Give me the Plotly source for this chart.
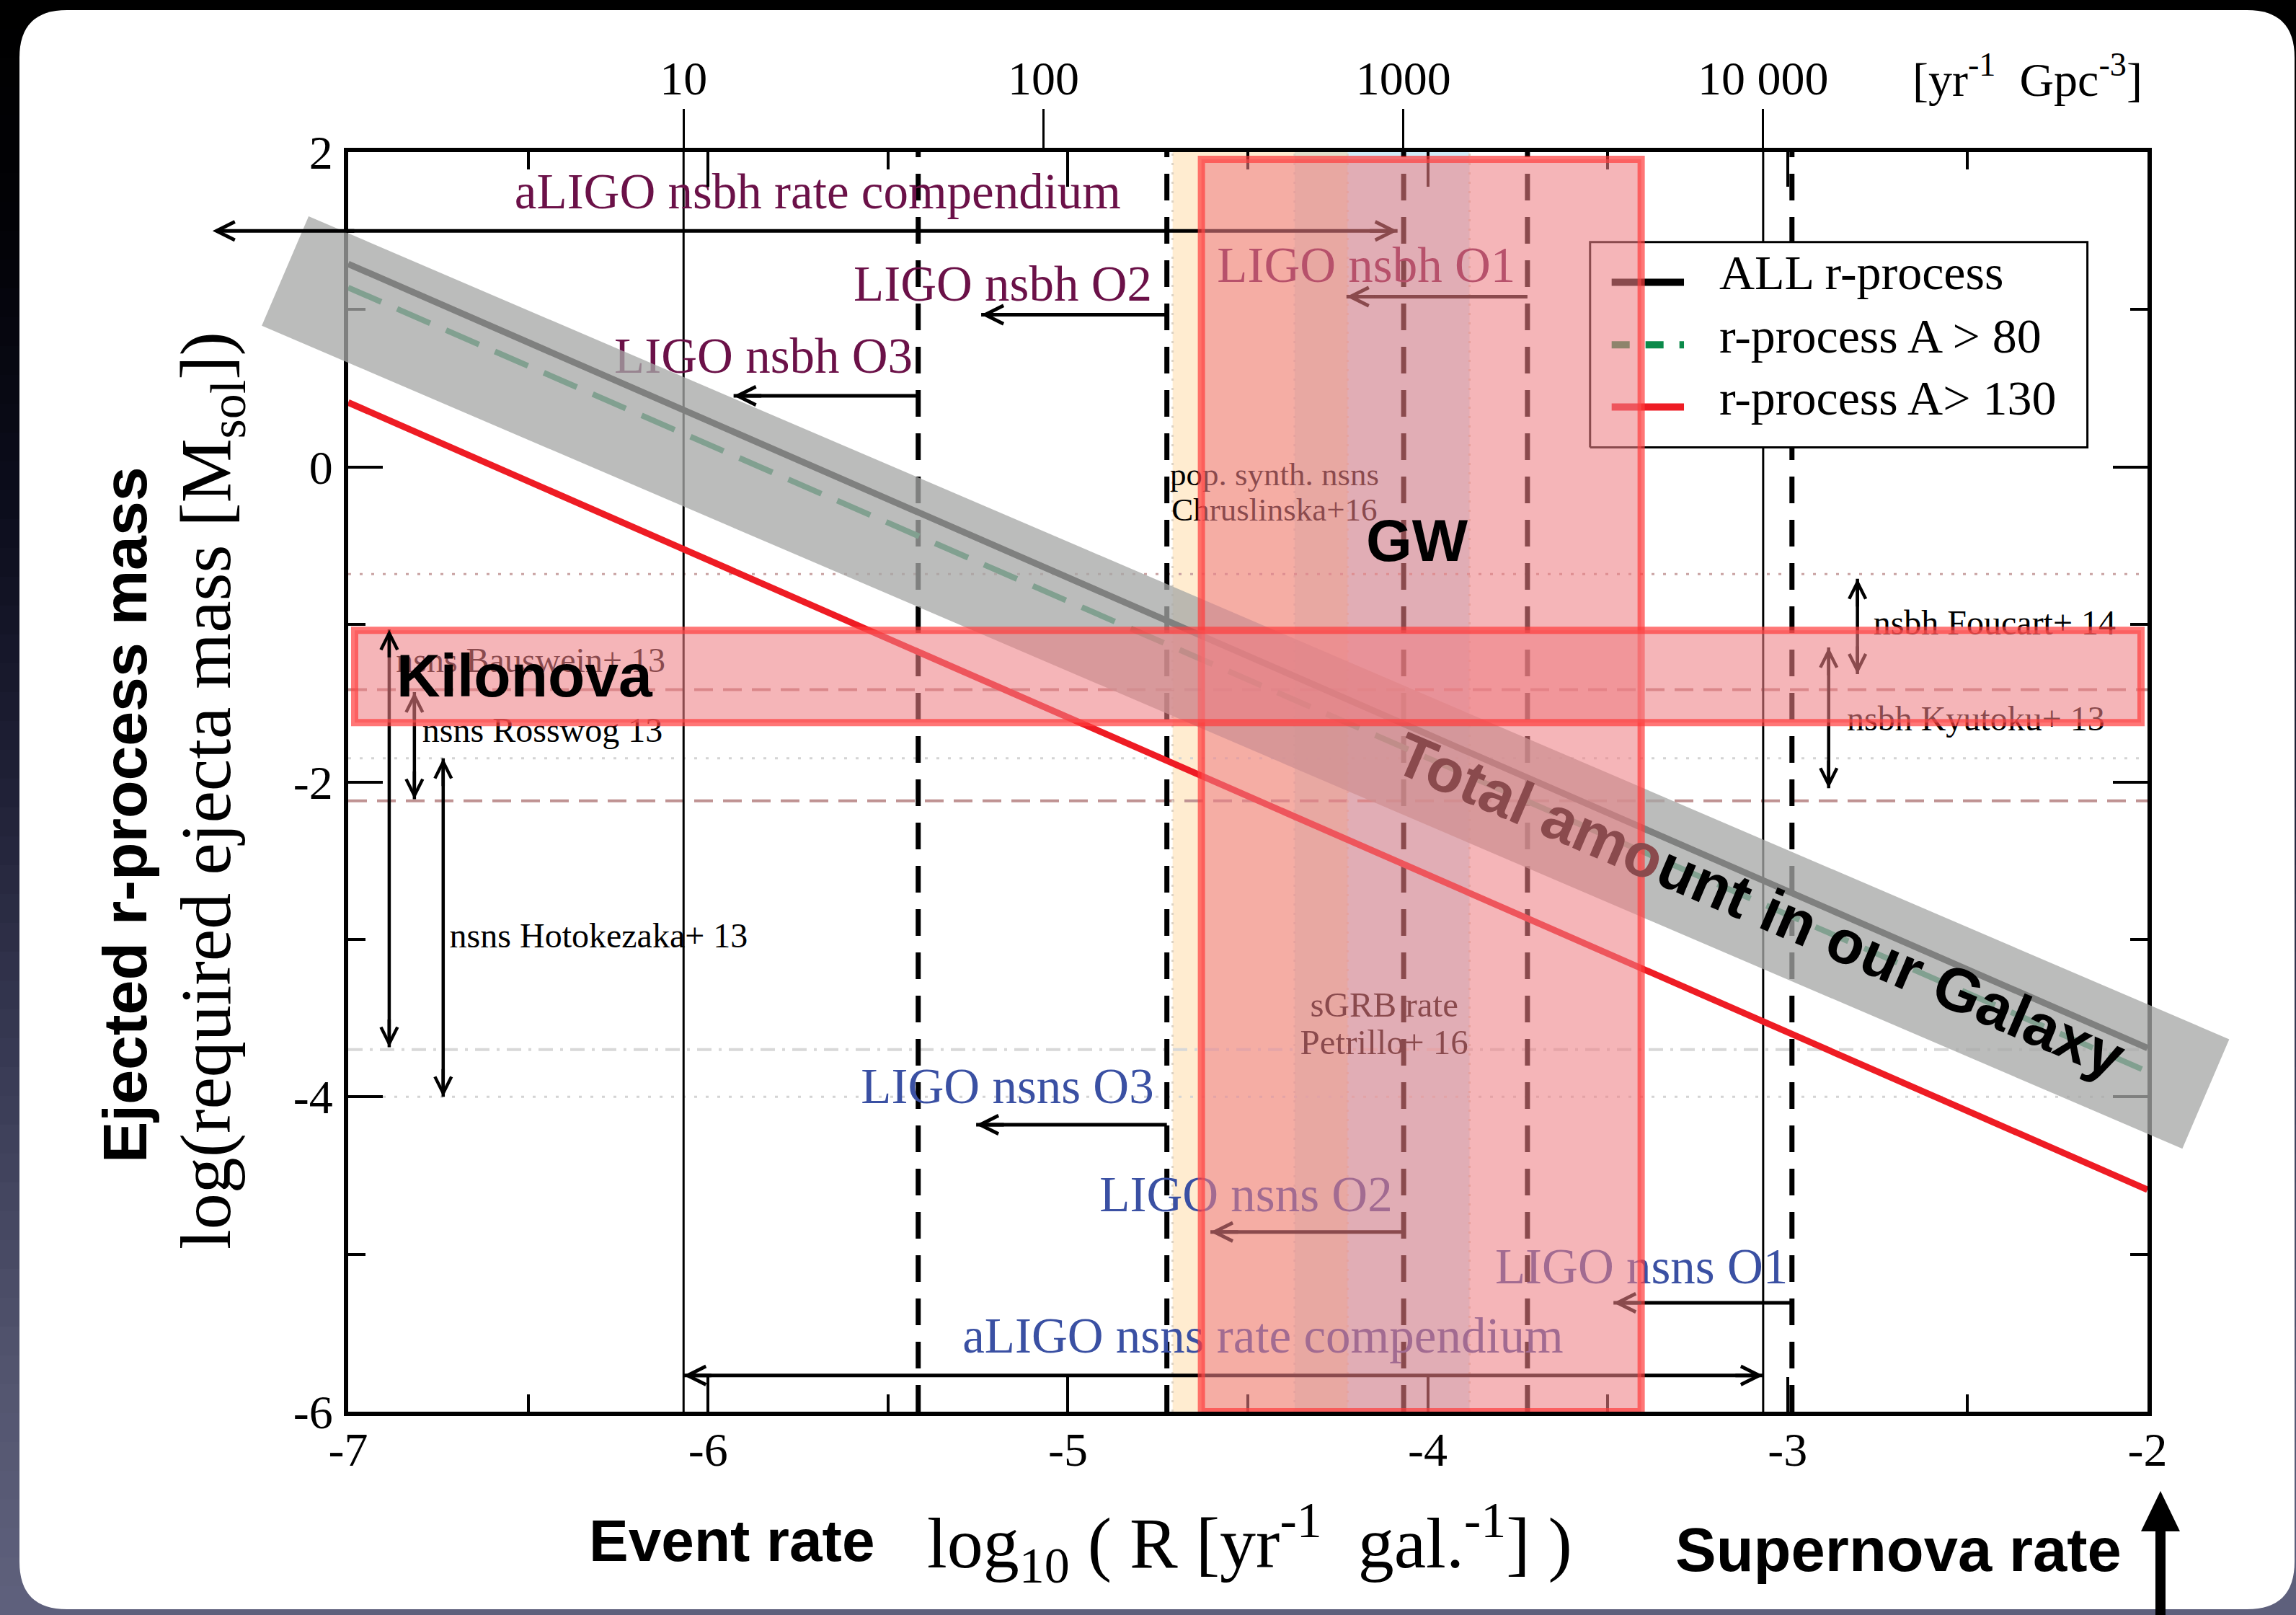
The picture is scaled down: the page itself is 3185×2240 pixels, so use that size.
import math
import plotly.graph_objects as go

# ---------------- canvas / plot-area geometry (pixels) ----------------
W, H = 3185, 2240
ML, MR, MT, MB = 483, 206, 211, 282
PW, PH = W - ML - MR, H - MT - MB
X0, X1 = -7.0, -2.0
Y0, Y1 = -6.0, 2.0
SERIF = "Liberation Serif, Times New Roman, serif"
SANS = "Liberation Sans, Arial, sans-serif"

# ---------------- data ----------------
# required ejecta mass (log Msun) versus event rate (log per yr per galaxy)
rate_grid = [-7.0, -2.0]
mass_all = [1.29, -3.69]
mass_a80 = [1.14, -3.84]
mass_a130 = [0.41, -4.59]

# top axis: volumetric rate in yr^-1 Gpc^-3
gpc_offset = -7.068
gpc_ticks = [10, 100, 1000, 10000]
gpc_tick_labels = ["10", "100", "1000", "10 000"]

x_tick_vals = [-7, -6, -5, -4, -3, -2]
x_minor_vals = [-6.5, -5.5, -4.5, -3.5, -2.5]
y_tick_vals = [-6, -4, -2, 0, 2]
y_minor_vals = [-5, -3, -1, 1]

# LIGO upper limits (log R at the limit, arrow end, arrow height, label centre)
limit_names = ["LIGO nsbh O1", "LIGO nsbh O2", "LIGO nsbh O3",
               "LIGO nsns O1", "LIGO nsns O2", "LIGO nsns O3"]
limit_x = [-3.723, -4.725, -5.416, -2.988, -4.067, -4.725]
limit_arrow_end = [-4.226, -5.241, -5.929, -3.484, -4.604, -5.255]
limit_arrow_y = [1.082, 0.967, 0.452, -5.308, -4.859, -4.177]
limit_label_x = [-4.171, -5.181, -5.846, -3.406, -4.505, -5.168]
limit_label_y = [1.254, 1.135, 0.677, -5.107, -4.646, -3.962]

# rate compendia
compendium_names = ["aLIGO nsbh rate compendium", "aLIGO nsns rate compendium"]
compendium_lo = [-7.377, math.log10(10) + gpc_offset]
compendium_hi = [-4.084, math.log10(10000) + gpc_offset]
compendium_y = [1.50, -5.77]
compendium_label_x = [-5.695, -4.458]
compendium_label_y = [1.72, -5.544]

# dynamical ejecta mass ranges from simulations (log Msun)
ejecta_names = ["nsns Bauswein+ 13", "nsns Rosswog 13", "nsns Hotokezaka+ 13",
                "nsbh Foucart+ 14", "nsbh Kyutoku+ 13"]
ejecta_x = [-6.886, -6.816, -6.736, -2.806, -2.886]
ejecta_hi = [-1.033, -1.43, -1.85, -0.71, -1.146]
ejecta_lo = [-3.685, -2.11, -4.0, -1.315, -2.04]
ejecta_label_x = [-6.493, -6.46, -6.304, -2.425, -2.477]
ejecta_label_y = [-1.246, -1.69, -2.996, -1.008, -1.617]

# horizontal reference levels (log Msun)
ref_y = [-0.68, -1.414, -1.85, -2.12, -3.70, -4.00]

# shaded regions
galaxy_band_x = [-7.175, -1.838]
galaxy_band_y = [1.245, -3.982]
gw_box_x = [-4.629, -3.407]
gw_box_y = [-6.0, 1.954]
kilonova_box_x = [-6.982, -2.018]
kilonova_box_y = [-1.623, -1.037]
popsynth_band = [-4.709, -4.223]
sgrb_band = [-4.370, -3.884]

# legend
legend_names = ["ALL r-process", "r-process A > 80", "r-process A> 130"]
legend_box_x = [-3.549, -2.167]
legend_box_y = [0.125, 1.429]
legend_line_x = [-3.489, -3.288]
legend_line_y = [1.174, 0.776, 0.381]
legend_text_x = -3.19
legend_text_y = [1.208, 0.807, 0.411]

# ---------------- styles ----------------
NSBH_COLOR = "#6b1148"
NSNS_COLOR = "#3a50a3"
RED_RGB, RED_A = (238, 127, 133), 0.58
RED_FILL = "rgba(238,127,133,%.2f)" % RED_A
RED_EDGE = "rgba(255,60,60,0.70)"
GRAY_BAND = "rgba(166,168,166,0.765)"
ref_color = ["#c9a2a2", "#bf9292", "#d4d4d4", "#bf9292", "#d8d8d8", "#d4d4d4"]
ref_dash = ["4px,12px", "26px,14px", "4px,12px", "26px,14px", "20px,10px,4px,10px", "4px,12px"]


def to_px(x, y):
    return ML + (x - X0) / (X1 - X0) * PW, MT + (Y1 - y) / (Y1 - Y0) * PH


def px_paper(px, py):
    return (px - ML) / PW, (H - MB - py) / PH


def seen_through_red(rgb, x, y):
    for bx, by in ((gw_box_x, gw_box_y), (kilonova_box_x, kilonova_box_y)):
        if bx[0] <= x <= bx[1] and by[0] <= y <= by[1]:
            rgb = tuple(RED_A * c + (1 - RED_A) * v for c, v in zip(RED_RGB, rgb))
    return "rgb(%d,%d,%d)" % tuple(round(v) for v in rgb)


fig = go.Figure()


def add_line(xs, ys, color, width, dash="solid"):
    fig.add_trace(go.Scatter(x=list(xs), y=list(ys), mode="lines",
                             line=dict(color=color, width=width, dash=dash),
                             hoverinfo="skip", showlegend=False))


def add_text(x, y, text, color, size, family=SERIF, pos="middle center"):
    fig.add_trace(go.Scatter(x=[x], y=[y], mode="text", text=[text], textposition=pos,
                             textfont=dict(family=family, size=size, color=color),
                             cliponaxis=False, hoverinfo="skip", showlegend=False))


# reference levels
for yv, c, d in zip(ref_y, ref_color, ref_dash):
    add_line([X0, X1], [yv, yv], c, 3 if "4px,12px" == d else 4, d)

# faint edges of the rate bands
for xv in popsynth_band + sgrb_band:
    add_line([xv, xv], [Y0, Y1], "#dcd2c4", 3, "3px,10px")

# compendium bounds on the volumetric scale
for xv in compendium_lo[1:] + compendium_hi[1:]:
    add_line([xv, xv], [Y0, Y1], "black", 3)

# LIGO limit lines
for xv in sorted(set(limit_x)):
    add_line([xv, xv], [Y0, Y1], "black", 7, "37px,23px")

# model curves
add_line(rate_grid, mass_a130, "#ee1c24", 9)
add_line(rate_grid, mass_a80, "#0b8a4a", 8, "50px,24px")
add_line(rate_grid, mass_all, "black", 9)

# arrow shafts
for xa, xb, yv in zip(limit_x, limit_arrow_end, limit_arrow_y):
    add_line([xa, xb], [yv, yv], "black", 5)
for xa, xb, yv in zip(compendium_lo, compendium_hi, compendium_y):
    add_line([xa, xb], [yv, yv], "black", 5)
for xv, ya, yb in zip(ejecta_x, ejecta_hi, ejecta_lo):
    add_line([xv, xv], [ya, yb], "black", 4.5)

# labels drawn underneath the shaded overlays
for name, xv, yv in zip(limit_names, limit_label_x, limit_label_y):
    add_text(xv, yv, name, NSBH_COLOR if "nsbh" in name else NSNS_COLOR, 69)
for name, xv, yv in zip(compendium_names, compendium_label_x, compendium_label_y):
    add_text(xv, yv, name, NSBH_COLOR if "nsbh" in name else NSNS_COLOR, 69)
for name, xv, yv in zip(ejecta_names, ejecta_label_x, ejecta_label_y):
    add_text(xv, yv, name, "black", 48)
add_text(-4.426, -0.065, "pop. synth. nsns", "black", 45)
add_text(-4.426, -0.289, "Chruslinska+16", "black", 45)
add_text(-4.121, -3.433, "sGRB rate", "black", 49)
add_text(-4.121, -3.673, "Petrillo+ 16", "black", 49)

# legend
fig.add_trace(go.Scatter(
    x=[legend_box_x[0], legend_box_x[1], legend_box_x[1], legend_box_x[0], legend_box_x[0]],
    y=[legend_box_y[0], legend_box_y[0], legend_box_y[1], legend_box_y[1], legend_box_y[0]],
    mode="lines", fill="toself", fillcolor="white", line=dict(color="black", width=3),
    hoverinfo="skip", showlegend=False))
legend_styles = [("black", "solid"), ("#0b8a4a", "25px,22px"), ("#ee1c24", "solid")]
for (col, dash), yv in zip(legend_styles, legend_line_y):
    add_line(legend_line_x, [yv, yv], col, 10, dash)
for name, yv in zip(legend_names, legend_text_y):
    add_text(legend_text_x, yv, name, "black", 68, pos="middle right")

# anchor trace for the volumetric top axis
fig.add_trace(go.Scatter(x=[None], y=[None], xaxis="x2", yaxis="y", showlegend=False,
                         hoverinfo="skip"))

# ---------------- shapes ----------------
shapes = []

# page background: dark vertical gradient
bg_stops = [(0, (0, 0, 0)), (300, (2, 2, 6)), (700, (12, 13, 28)), (1100, (32, 33, 55)),
            (1500, (58, 60, 86)), (1900, (82, 84, 110)), (2240, (95, 97, 125))]


def bg_color(py):
    for (ya, ca), (yb, cb) in zip(bg_stops[:-1], bg_stops[1:]):
        if ya <= py <= yb:
            t = (py - ya) / (yb - ya)
            return "rgb(%d,%d,%d)" % tuple(round(a + t * (b - a)) for a, b in zip(ca, cb))
    return "rgb(95,97,125)"


n_bands = 56
step = H / n_bands
for i in range(n_bands):
    xa, ya = px_paper(-5, i * step)
    xb, yb = px_paper(W + 5, (i + 1) * step + 1)
    shapes.append(dict(type="rect", xref="paper", yref="paper", x0=xa, x1=xb, y0=ya, y1=yb,
                       fillcolor=bg_color((i + 0.5) * step), line=dict(width=0), layer="below"))

# white rounded card
cx0, cy0, cx1, cy1, r = 27, 14, 3183, 2232, 66
pts = [("M", cx0 + r, cy0), ("L", cx1 - r, cy0), ("Q", cx1, cy0, cx1, cy0 + r),
       ("L", cx1, cy1 - r), ("Q", cx1, cy1, cx1 - r, cy1), ("L", cx0 + r, cy1),
       ("Q", cx0, cy1, cx0, cy1 - r), ("L", cx0, cy0 + r), ("Q", cx0, cy0, cx0 + r, cy0)]
card = ""
for p in pts:
    cmd, coords = p[0], p[1:]
    segs = []
    for k in range(0, len(coords), 2):
        u, v = px_paper(coords[k], coords[k + 1])
        segs.append("%.5f,%.5f" % (u, v))
    card += cmd + " " + " ".join(segs) + " "
shapes.append(dict(type="path", xref="paper", yref="paper", path=card + "Z",
                   fillcolor="white", line=dict(width=0), layer="below"))

# rate bands beneath the curves
shapes.append(dict(type="rect", xref="x", yref="y", x0=sgrb_band[0], x1=sgrb_band[1],
                   y0=Y0, y1=Y1, fillcolor="rgba(120,200,235,0.35)", line=dict(width=0),
                   layer="below"))
shapes.append(dict(type="rect", xref="x", yref="y", x0=popsynth_band[0], x1=popsynth_band[1],
                   y0=Y0, y1=Y1, fillcolor="rgba(255,200,120,0.35)", line=dict(width=0),
                   layer="below"))

# galactic r-process budget band (extends past the frame)
p0 = to_px(galaxy_band_x[0], galaxy_band_y[0])
p1 = to_px(galaxy_band_x[1], galaxy_band_y[1])
ddx, ddy = p1[0] - p0[0], p1[1] - p0[1]
blen = math.hypot(ddx, ddy)
nx, ny = -ddy / blen, ddx / blen
hw = 82.5
corners = [(p0[0] + nx * hw, p0[1] + ny * hw), (p1[0] + nx * hw, p1[1] + ny * hw),
           (p1[0] - nx * hw, p1[1] - ny * hw), (p0[0] - nx * hw, p0[1] - ny * hw)]
band_path = "M " + " L ".join("%.5f,%.5f" % px_paper(*c) for c in corners) + " Z"
shapes.append(dict(type="path", xref="paper", yref="paper", path=band_path,
                   fillcolor=GRAY_BAND, line=dict(width=0), layer="above"))
band_angle = math.degrees(math.atan2(ddy, ddx))

# GW and kilonova constraints
shapes.append(dict(type="rect", xref="x", yref="y", x0=gw_box_x[0], x1=gw_box_x[1],
                   y0=gw_box_y[0], y1=gw_box_y[1], fillcolor=RED_FILL,
                   line=dict(color=RED_EDGE, width=10), layer="above"))
shapes.append(dict(type="rect", xref="x", yref="y", x0=kilonova_box_x[0], x1=kilonova_box_x[1],
                   y0=kilonova_box_y[0], y1=kilonova_box_y[1], fillcolor=RED_FILL,
                   line=dict(color=RED_EDGE, width=10), layer="above"))

# supernova-rate marker arrow below the axis
sx = 2997
a, b = px_paper(sx, 2245)
c, d = px_paper(sx, 2116)
shapes.append(dict(type="line", xref="paper", yref="paper", x0=a, y0=b, x1=c, y1=d,
                   line=dict(color="black", width=14), layer="above"))
tri = [px_paper(sx, 2068), px_paper(sx - 27, 2124), px_paper(sx + 27, 2124)]
shapes.append(dict(type="path", xref="paper", yref="paper",
                   path="M %.5f,%.5f L %.5f,%.5f L %.5f,%.5f Z" % (tri[0] + tri[1] + tri[2]),
                   fillcolor="black", line=dict(width=0), layer="above"))

# ---------------- annotations ----------------
anns = []
HEAD_PX = 40
XPX = PW / (X1 - X0)
YPX = PH / (Y1 - Y0)


def head(x, y, direction, width):
    ux, uy = {"left": (1, 0), "right": (-1, 0), "up": (0, -1), "down": (0, 1)}[direction]
    tx = x + ux * HEAD_PX / XPX
    ty = y + uy * HEAD_PX / YPX
    tx = min(max(tx, X0 + 0.02), X1 - 0.02)
    anns.append(dict(x=x, y=y, xref="x", yref="y", ax=tx, ay=ty, axref="x", ayref="y",
                     text="", showarrow=True, arrowhead=5, arrowsize=1.0, arrowwidth=width,
                     arrowcolor=seen_through_red((0, 0, 0), x, y), standoff=0))


for xb, yv in zip(limit_arrow_end, limit_arrow_y):
    head(xb, yv, "left", 5)
for xa, xb, yv in zip(compendium_lo, compendium_hi, compendium_y):
    head(xa, yv, "left", 5)
    head(xb, yv, "right", 5)
for xv, ya, yb in zip(ejecta_x, ejecta_hi, ejecta_lo):
    head(xv, ya, "up", 4.5)
    head(xv, yb, "down", 4.5)

anns.append(dict(x=-4.030, y=-0.466, xref="x", yref="y", text="<b>GW</b>", showarrow=False,
                 font=dict(family=SANS, size=82, color="black")))
anns.append(dict(x=-6.509, y=-1.324, xref="x", yref="y", text="<b>Kilonova</b>",
                 showarrow=False, font=dict(family=SANS, size=84, color="black")))
tint = seen_through_red((0, 0, 0), -3.9, 0.0)
anns.append(dict(x=-3.076, y=-2.785, xref="x", yref="y", textangle=band_angle,
                 text="<b><span style='color:%s'>Total amo</span>unt in our Galaxy</b>" % tint,
                 showarrow=False, font=dict(family=SANS, size=85, color="black")))


def paper_ann(px, py, text, size, family, angle=0):
    u, v = px_paper(px, py)
    anns.append(dict(x=u, y=v, xref="paper", yref="paper", text=text, showarrow=False,
                     textangle=angle, xanchor="center", yanchor="middle",
                     font=dict(family=family, size=size, color="black")))


paper_ann(1015, 2136, "<b>Event rate</b>", 82, SANS)
paper_ann(1733, 2140, "log<sub>10</sub> ( R [yr<sup>-1</sup>  gal.<sup>-1</sup>] )", 100, SERIF)
paper_ann(2633, 2149, "<b>Supernova rate</b>", 85, SANS)
paper_ann(173, 1130, "<b>Ejected r-process mass</b>", 86, SANS, -90)
paper_ann(292, 1097, "log(required ejecta mass [M<sub>sol</sub>])", 100, SERIF, -90)
paper_ann(2812, 105, "[yr<sup>-1</sup>  Gpc<sup>-3</sup>]", 66, SERIF)

# ---------------- layout ----------------
tickfont = dict(family="Liberation Serif", size=66, color="black")
axis_common = dict(showline=True, linewidth=6, linecolor="black", mirror="ticks",
                   ticks="inside", ticklen=48, tickwidth=4, tickcolor="black",
                   showgrid=False, zeroline=False, tickfont=tickfont)

fig.update_layout(
    width=W, height=H, autosize=False,
    margin=dict(l=ML, r=MR, t=MT, b=MB, pad=0),
    paper_bgcolor="black", plot_bgcolor="white",
    showlegend=False, hovermode=False,
    xaxis=dict(range=[X0, X1], tickvals=x_tick_vals, ticktext=[str(v) for v in x_tick_vals],
               minor=dict(tickvals=x_minor_vals, ticks="inside", ticklen=24, tickwidth=4,
                          tickcolor="black"),
               ticklabelstandoff=-10, **axis_common),
    yaxis=dict(range=[Y0, Y1], tickvals=y_tick_vals, ticktext=[str(v) for v in y_tick_vals],
               minor=dict(tickvals=y_minor_vals, ticks="inside", ticklen=24, tickwidth=4,
                          tickcolor="black"),
               ticklabelstandoff=2, **axis_common),
    xaxis2=dict(overlaying="x", side="top", range=[X0, X1],
                tickvals=[math.log10(v) + gpc_offset for v in gpc_ticks],
                ticktext=gpc_tick_labels, ticks="outside", ticklen=59, tickwidth=3,
                tickcolor="black", showline=False, showgrid=False, zeroline=False,
                tickfont=tickfont, ticklabelstandoff=-6),
    shapes=shapes,
    annotations=anns,
)

fig.write_html("out.html")
